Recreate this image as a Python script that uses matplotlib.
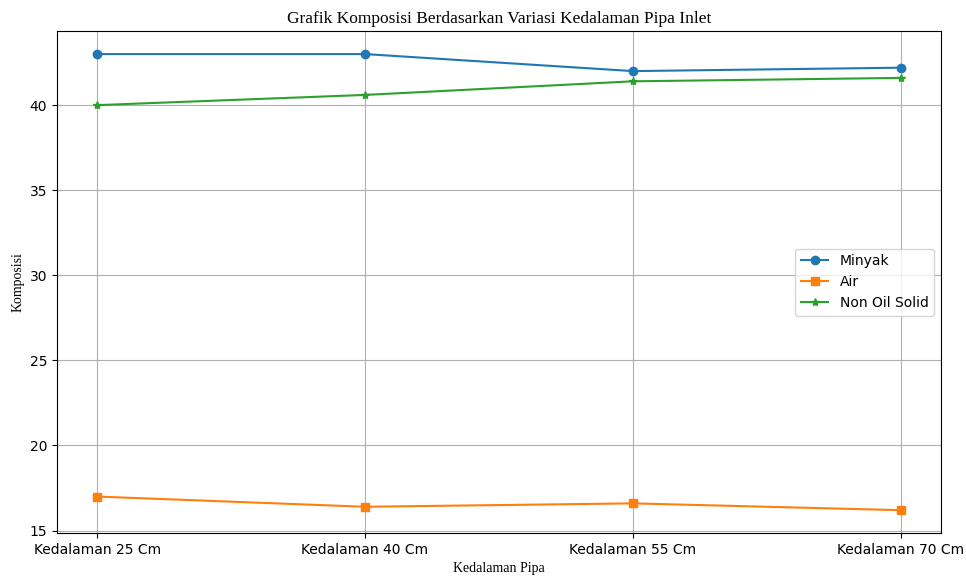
import matplotlib
matplotlib.use("Agg")
import matplotlib.pyplot as plt

categories = ["Kedalaman 25 Cm", "Kedalaman 40 Cm", "Kedalaman 55 Cm", "Kedalaman 70 Cm"]
minyak = [43.0, 43.0, 42.0, 42.2]
air = [17.0, 16.4, 16.6, 16.2]
non_oil_solid = [40.0, 40.6, 41.4, 41.6]

fig = plt.figure(figsize=(9.66, 5.76), dpi=100)
ax = fig.add_axes([0.059, 0.0747, 0.915, 0.871])
ax.plot(categories, minyak, marker="o", label="Minyak")
ax.plot(categories, air, marker="s", label="Air")
ax.plot(categories, non_oil_solid, marker="*", label="Non Oil Solid")
ax.set_title("Grafik Komposisi Berdasarkan Variasi Kedalaman Pipa Inlet",
             fontfamily="Liberation Serif", fontsize=12.5)
ax.set_xlabel("Kedalaman Pipa", fontfamily="Liberation Serif", fontsize=10)
ax.set_ylabel("Komposisi", fontfamily="Liberation Serif", fontsize=10)
ax.grid(True)
ax.legend(loc="center right")
fig.savefig("out.png", dpi=100)
